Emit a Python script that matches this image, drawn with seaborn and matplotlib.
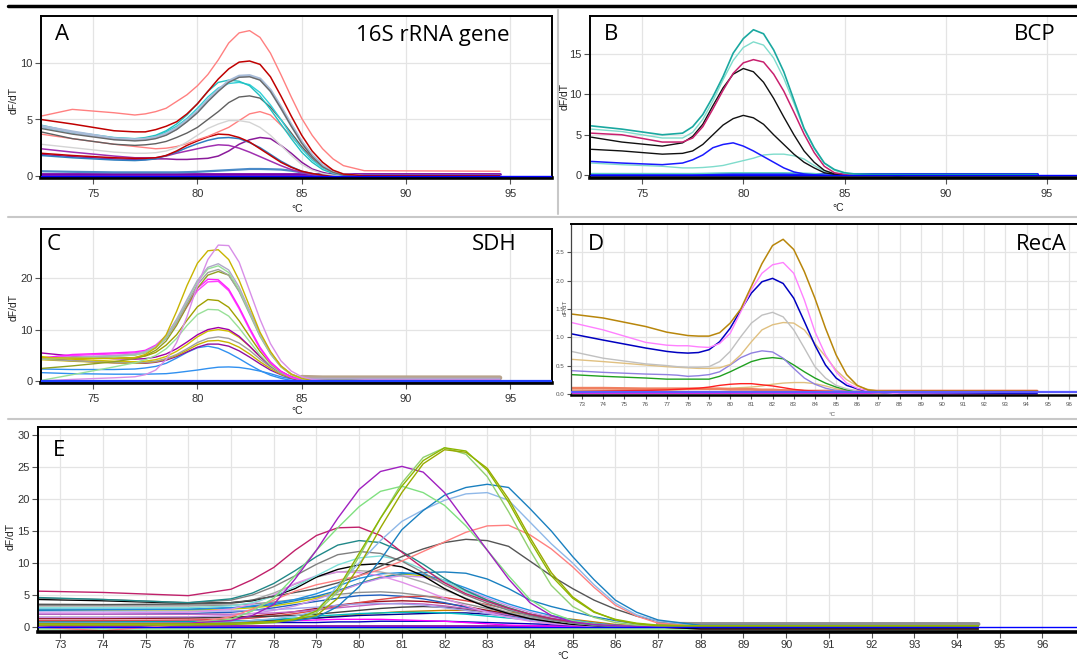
import numpy as np
import matplotlib
matplotlib.use("Agg")
import matplotlib.pyplot as plt
import seaborn as sns
from matplotlib.lines import Line2D

nan = np.nan
# common temperature grid (degC)
T = [72.5, 74, 76, 77, 77.5, 78, 78.5, 79, 79.5, 80, 80.5, 81, 81.5, 82, 82.5,
     83, 83.5, 84, 84.5, 85, 85.5, 86, 86.5, 87, 88, 94.5]

# ---------------- Panel A : 16S rRNA gene ----------------
A_salmon1 = [5.3, 5.9, 5.6, 5.4, 5.5, 5.7, 6.0, 6.6, 7.2, 8.0, 9.0, 10.3, 11.8, 12.7, 12.9, 12.3, 10.9, 9.0, 7.0, 5.1, 3.6, 2.4, 1.5, 0.9, 0.45, 0.4]
A_darkred1 = [5.0, 4.6, 4.0, 3.9, 3.9, 4.1, 4.4, 4.8, 5.5, 6.4, 7.5, 8.6, 9.5, 10.1, 10.2, 9.9, 8.8, 7.1, 5.3, 3.6, 2.2, 1.2, 0.5, 0.15, 0.0, 0.0]
A_steel = [4.4, 3.9, 3.3, 3.2, 3.25, 3.4, 3.7, 4.2, 4.9, 5.7, 6.7, 7.6, 8.4, 8.85, 8.9, 8.6, 7.6, 6.1, 4.5, 3.0, 1.8, 0.9, 0.35, 0.1, -0.05, -0.05]
A_gray1 = [4.2, 3.7, 3.2, 3.1, 3.15, 3.3, 3.6, 4.1, 4.8, 5.6, 6.6, 7.5, 8.3, 8.75, 8.8, 8.5, 7.5, 6.0, 4.4, 2.9, 1.7, 0.8, 0.3, 0.05, -0.1, -0.15]
A_cyan1 = [4.5, 3.9, 3.4, 3.3, 3.4, 3.6, 4.0, 4.6, 5.4, 6.4, 7.5, 8.3, 8.5, 8.4, 8.0, 7.1, 5.9, 4.6, 3.3, 2.1, 1.2, 0.55, 0.2, 0.05, 0.0, 0.0]
A_cyan2 = [4.3, 3.8, 3.3, 3.2, 3.3, 3.5, 3.9, 4.4, 5.1, 6.0, 7.0, 7.8, 8.2, 8.3, 8.1, 7.4, 6.3, 5.0, 3.6, 2.4, 1.4, 0.7, 0.25, 0.05, 0.0, 0.0]
A_gray2 = [3.9, 3.3, 2.8, 2.7, 2.75, 2.85, 3.05, 3.4, 3.8, 4.3, 5.0, 5.7, 6.5, 7.0, 7.1, 6.9, 6.1, 5.0, 3.8, 2.6, 1.6, 0.8, 0.3, 0.08, -0.05, -0.1]
A_lgray = [2.8, 2.5, 2.1, 2.0, 2.0, 2.05, 2.2, 2.5, 3.0, 3.6, 4.2, 4.6, 4.9, 4.9, 4.75, 4.3, 3.6, 2.7, 1.8, 1.0, 0.5, 0.2, 0.05, 0.0, 0.0, 0.0]
A_salmon2 = [3.7, 3.3, 2.8, 2.6, 2.5, 2.4, 2.45, 2.6, 2.85, 3.2, 3.5, 3.9, 4.3, 4.9, 5.5, 5.7, 5.4, 4.5, 3.5, 2.5, 1.5, 0.8, 0.3, 0.1, 0.0, 0.0]
A_darkred2 = [2.0, 1.8, 1.6, 1.55, 1.55, 1.6, 1.8, 2.2, 2.7, 3.1, 3.45, 3.7, 3.65, 3.4, 3.0, 2.4, 1.8, 1.2, 0.75, 0.4, 0.2, 0.05, 0.0, 0.0, 0.0, 0.0]
A_blue1 = [1.8, 1.6, 1.4, 1.35, 1.4, 1.5, 1.8, 2.1, 2.5, 2.85, 3.15, 3.35, 3.4, 3.3, 2.95, 2.5, 1.9, 1.3, 0.8, 0.4, 0.2, 0.05, 0.0, 0.0, 0.0, 0.0]
A_purple1 = [2.4, 2.1, 1.75, 1.6, 1.6, 1.6, 1.75, 2.0, 2.2, 2.4, 2.6, 2.75, 2.7, 2.45, 2.1, 1.7, 1.3, 0.9, 0.55, 0.3, 0.12, 0.03, 0.0, 0.0, 0.0, 0.0]
A_purple2 = [1.9, 1.7, 1.5, 1.45, 1.45, 1.5, 1.5, 1.45, 1.45, 1.5, 1.55, 1.75, 2.2, 2.8, 3.2, 3.4, 3.3, 2.7, 2.0, 1.2, 0.6, 0.3, 0.1, 0.0, 0.0, 0.0]
A_bluelow = [0.4, 0.35, 0.3, 0.3, 0.3, 0.3, 0.3, 0.3, 0.32, 0.35, 0.4, 0.45, 0.5, 0.55, 0.6, 0.6, 0.58, 0.55, 0.45, 0.3, 0.15, 0.05, 0.0, 0.0, 0.0, 0.0]
A_purpleflat = [0.12] * 26

# ---------------- Panel B : BCP ----------------
B_teal = [6.1, 5.7, 5.0, 5.2, 6.0, 7.5, 9.7, 12.2, 15.1, 16.9, 18.0, 17.5, 15.5, 12.8, 9.3, 5.8, 3.4, 1.5, 0.7, 0.3, 0.15, 0.12, 0.1, 0.1, 0.08, 0.08]
B_lteal = [5.7, 5.4, 4.6, 4.6, 5.3, 6.9, 9.2, 11.8, 14.2, 15.8, 16.5, 16.1, 14.5, 12.0, 8.9, 5.7, 3.3, 1.5, 0.6, 0.25, 0.1, 0.08, 0.05, 0.05, -0.3, -0.3]
B_crimson = [5.2, 5.0, 4.1, 4.1, 4.6, 6.0, 8.2, 10.5, 12.6, 13.9, 14.3, 14.0, 12.5, 10.4, 7.8, 5.1, 2.8, 1.1, 0.3, 0.1, 0.0, 0.0, 0.0, 0.0, 0.0, 0.0]
B_black1 = [4.7, 4.1, 3.6, 4.0, 4.8, 6.3, 8.6, 10.8, 12.5, 13.2, 12.8, 11.5, 9.5, 7.2, 5.0, 3.0, 1.6, 0.6, 0.15, 0.0, 0.0, 0.0, 0.0, 0.0, 0.0, 0.0]
B_black2 = [3.2, 3.0, 2.6, 2.7, 3.0, 3.8, 5.0, 6.2, 7.0, 7.4, 7.1, 6.3, 5.0, 3.8, 2.6, 1.6, 0.9, 0.3, 0.1, 0.0, 0.0, 0.0, 0.0, 0.0, 0.0, 0.0]
B_blue = [1.7, 1.5, 1.3, 1.5, 1.9, 2.5, 3.4, 3.8, 4.0, 3.6, 3.0, 2.3, 1.6, 0.9, 0.4, 0.15, 0.05, 0.0, 0.0, 0.0, 0.0, 0.0, 0.0, 0.0, 0.0, 0.0]
B_lteal2 = [1.5, 1.3, 1.1, 0.9, 0.9, 0.95, 1.05, 1.2, 1.5, 1.8, 2.1, 2.5, 2.6, 2.6, 2.4, 2.0, 1.2, 0.5, 0.2, 0.05, 0.0, 0.0, 0.0, 0.0, 0.0, 0.0]
B_teallow = [0.2, 0.2, 0.2, 0.2, 0.2, 0.22, 0.25, 0.28, 0.3, 0.3, 0.3, 0.3, 0.3, 0.3, 0.28, 0.25, 0.2, 0.1, 0.05, 0.0, 0.0, 0.0, 0.0, 0.0, 0.0, 0.0]
B_blueflat = [0.1] * 26

# ---------------- Panel C : SDH ----------------
C_orchid = [0.1, 0.4, 0.7, 0.9, 1.3, 2.2, 4.2, 7.5, 12.5, 18.5, 23.5, 26.3, 26.2, 23.0, 17.5, 12.0, 7.3, 4.0, 2.0, 0.9, 0.4, 0.2, 0.1, 0.05, 0.3, 0.3]
C_yellow1 = [4.6, 4.5, 4.4, 4.6, 5.2, 6.5, 9.0, 13.5, 18.5, 22.8, 25.2, 25.4, 23.5, 19.5, 14.5, 9.5, 5.8, 3.0, 1.4, 0.6, 0.2, 0.0, -0.2, -0.3, -0.3, -0.3]
C_graylav = [4.5, 4.7, 5.0, 5.3, 5.8, 6.8, 8.8, 12.0, 15.8, 19.5, 22.0, 22.7, 21.5, 18.2, 13.7, 9.2, 5.6, 3.0, 1.4, 0.7, 0.6, 0.6, 0.6, 0.6, 0.6, 0.6]
C_lgreen1 = [4.3, 4.5, 4.8, 5.1, 5.6, 6.6, 8.5, 11.7, 15.5, 19.2, 21.7, 22.3, 21.0, 17.7, 13.3, 8.9, 5.4, 2.9, 1.3, 0.5, 0.2, 0.1, 0.1, 0.1, 0.1, 0.1]
C_gray1 = [4.4, 4.6, 4.9, 5.1, 5.5, 6.5, 8.3, 11.4, 15.0, 18.7, 21.0, 21.6, 20.5, 17.3, 13.0, 8.7, 5.3, 2.8, 1.3, 0.6, 0.5, 0.5, 0.5, 0.5, 0.5, 0.5]
C_olivegreen = [2.5, 3.0, 3.8, 4.4, 5.0, 6.0, 7.8, 10.8, 14.5, 18.0, 20.5, 21.2, 20.5, 17.5, 13.5, 9.2, 5.6, 3.0, 1.4, 0.6, 0.2, 0.0, -0.2, -0.3, -0.3, -0.3]
C_magenta1 = [4.5, 5.2, 5.5, 5.7, 6.0, 7.0, 8.8, 11.8, 15.0, 18.0, 19.7, 19.6, 17.8, 14.3, 10.3, 6.6, 3.8, 2.0, 0.9, 0.3, 0.1, 0.0, 0.0, 0.0, 0.0, 0.0]
C_magenta2 = [4.3, 5.0, 5.3, 5.5, 5.8, 6.7, 8.4, 11.2, 14.4, 17.5, 19.2, 19.3, 17.5, 14.0, 10.0, 6.3, 3.6, 1.9, 0.8, 0.3, 0.1, 0.0, 0.0, 0.0, 0.0, 0.0]
C_olive = [4.3, 4.4, 4.5, 4.6, 4.9, 5.6, 7.0, 9.0, 11.8, 14.4, 15.8, 15.6, 14.3, 11.7, 8.7, 5.8, 3.5, 1.9, 0.9, 0.3, 0.1, 0.0, 0.0, 0.0, 0.0, 0.0]
C_lgreen2 = [0.2, 1.3, 2.8, 3.6, 4.2, 5.0, 6.3, 8.3, 10.8, 12.9, 13.9, 13.8, 12.6, 10.3, 7.7, 5.1, 3.1, 1.7, 0.8, 0.3, 0.1, 0.0, 0.0, 0.0, 0.0, 0.0]
C_purple1 = [5.5, 4.9, 4.4, 4.3, 4.4, 4.7, 5.3, 6.3, 7.6, 9.0, 10.0, 10.4, 10.0, 8.7, 6.8, 4.8, 3.0, 1.7, 0.8, 0.3, 0.1, 0.0, 0.0, 0.0, 0.0, 0.0]
C_yellow2 = [4.8, 4.3, 3.9, 3.8, 3.9, 4.2, 4.8, 5.8, 7.1, 8.6, 9.7, 10.0, 9.7, 8.5, 6.8, 4.8, 3.1, 1.8, 0.9, 0.35, 0.1, 0.0, 0.0, 0.0, 0.0, 0.0]
C_gray2 = [4.3, 4.0, 3.7, 3.6, 3.7, 3.9, 4.4, 5.2, 6.3, 7.5, 8.3, 8.6, 8.3, 7.4, 6.0, 4.3, 2.8, 1.6, 0.9, 0.5, 0.4, 0.4, 0.4, 0.4, 0.4, 0.4]
C_yellow3 = [4.2, 3.9, 3.6, 3.5, 3.6, 3.8, 4.3, 5.0, 6.0, 7.1, 7.8, 7.9, 7.5, 6.6, 5.3, 3.8, 2.5, 1.4, 0.7, 0.25, 0.05, 0.0, -0.2, -0.3, -0.3, -0.3]
C_purple2 = [4.4, 4.0, 3.6, 3.5, 3.5, 3.7, 4.1, 4.8, 5.7, 6.6, 7.2, 7.2, 6.8, 5.9, 4.7, 3.4, 2.2, 1.3, 0.6, 0.2, 0.05, 0.0, 0.0, 0.0, 0.0, 0.0]
C_blue1 = [2.4, 2.3, 2.3, 2.4, 2.6, 2.9, 3.5, 4.5, 5.6, 6.5, 6.8, 6.4, 5.5, 4.4, 3.2, 2.1, 1.2, 0.6, 0.2, 0.05, 0.0, 0.0, 0.0, 0.0, 0.0, 0.0]
C_blue2 = [1.7, 1.5, 1.4, 1.4, 1.4, 1.45, 1.5, 1.7, 1.95, 2.2, 2.5, 2.75, 2.8, 2.7, 2.4, 2.0, 1.5, 0.9, 0.5, 0.2, 0.05, 0.0, 0.0, 0.0, 0.0, 0.0]
C_band = [nan] * 19 + [0.8, 0.75, 0.7, 0.7, 0.7, 0.7, 0.7]

# ---------------- Panel D : RecA ----------------
D_brown = [1.41, 1.34, 1.19, 1.09, 1.06, 1.03, 1.02, 1.02, 1.08, 1.25, 1.5, 1.9, 2.3, 2.62, 2.73, 2.55, 2.16, 1.69, 1.16, 0.69, 0.34, 0.15, 0.07, 0.05, 0.05, 0.05]
D_pink = [1.26, 1.13, 0.91, 0.86, 0.85, 0.85, 0.83, 0.82, 0.89, 1.07, 1.45, 1.84, 2.13, 2.28, 2.32, 2.13, 1.66, 1.1, 0.69, 0.39, 0.19, 0.1, 0.05, 0.03, 0.0, -0.02]
D_blue = [1.06, 0.95, 0.81, 0.75, 0.73, 0.72, 0.73, 0.78, 0.92, 1.16, 1.48, 1.78, 1.98, 2.04, 1.95, 1.69, 1.28, 0.86, 0.51, 0.28, 0.15, 0.09, 0.05, 0.03, 0.0, 0.0]
D_lgray = [0.75, 0.63, 0.53, 0.5, 0.48, 0.47, 0.47, 0.48, 0.57, 0.75, 1.01, 1.25, 1.39, 1.44, 1.36, 1.13, 0.81, 0.48, 0.28, 0.15, 0.09, 0.05, 0.03, 0.03, 0.03, 0.03]
D_tan = [0.61, 0.57, 0.51, 0.48, 0.47, 0.46, 0.45, 0.45, 0.46, 0.52, 0.69, 0.92, 1.13, 1.22, 1.26, 1.25, 1.13, 0.89, 0.66, 0.42, 0.25, 0.14, 0.08, 0.05, 0.04, 0.04]
D_lavender = [0.41, 0.38, 0.35, 0.34, 0.33, 0.31, 0.32, 0.34, 0.39, 0.51, 0.64, 0.72, 0.76, 0.74, 0.63, 0.45, 0.28, 0.17, 0.1, 0.06, 0.04, 0.03, 0.03, 0.03, 0.03, 0.03]
D_green = [0.34, 0.31, 0.28, 0.26, 0.26, 0.26, 0.26, 0.26, 0.31, 0.39, 0.48, 0.57, 0.62, 0.64, 0.62, 0.51, 0.39, 0.28, 0.19, 0.12, 0.07, 0.04, 0.03, 0.03, 0.03, 0.03]
D_salmon = [0.1, 0.1, 0.09, 0.09, 0.09, 0.09, 0.09, 0.09, 0.09, 0.08, 0.08, 0.08, 0.07, 0.07, 0.06, 0.06, 0.05, 0.05, 0.05, 0.05, 0.05, 0.05, 0.05, 0.05, 0.05, 0.05]
D_red = [0.04, 0.05, 0.06, 0.07, 0.08, 0.09, 0.1, 0.12, 0.15, 0.17, 0.18, 0.18, 0.16, 0.14, 0.11, 0.08, 0.06, 0.05, 0.04, 0.04, 0.04, 0.04, 0.04, 0.05, 0.05, 0.05]
D_tan2 = [0.06, 0.06, 0.07, 0.07, 0.07, 0.08, 0.08, 0.09, 0.09, 0.1, 0.11, 0.12, 0.14, 0.17, 0.19, 0.2, 0.2, 0.18, 0.14, 0.09, 0.06, 0.04, 0.03, 0.02, 0.02, 0.02]
D_greenlow = [0.03, 0.03, 0.03, 0.03, 0.03, 0.03, 0.03, 0.03, 0.03, 0.03, 0.04, 0.04, 0.05, 0.05, 0.05, 0.05, 0.05, 0.05, 0.04, 0.03, 0.03, 0.03, 0.03, 0.03, 0.03, 0.03]
D_magenta = [0.02] * 26

# ---------------- Panel E : all targets ----------------
E_olive1 = [0.3, 0.3, 0.3, 0.4, 0.5, 0.7, 1.2, 2.5, 6.0, 11.5, 17.0, 22.0, 26.0, 28.0, 27.5, 24.5, 19.5, 13.5, 8.0, 4.5, 2.3, 1.2, 0.6, 0.3, 0.2, 0.2]
E_olive2 = [0.5, 0.5, 0.5, 0.6, 0.7, 0.9, 1.2, 1.8, 4.5, 9.5, 15.5, 21.0, 25.5, 27.7, 27.3, 24.8, 20.0, 14.0, 8.5, 4.7, 2.4, 1.1, 0.5, 0.2, 0.1, 0.1]
E_lgreen1 = [0.4, 0.4, 0.4, 0.5, 0.6, 0.8, 1.3, 2.2, 5.5, 11.0, 17.0, 22.5, 26.5, 28.0, 27.0, 23.5, 18.0, 12.0, 6.5, 3.2, 1.5, 0.7, 0.3, 0.2, 0.1, 0.1]
E_purple = [0.5, 0.5, 0.6, 1.0, 1.8, 3.5, 7.5, 12.0, 17.0, 21.5, 24.3, 25.1, 24.2, 21.0, 16.5, 12.0, 7.5, 3.8, 1.8, 0.8, 0.4, 0.2, 0.1, 0.0, 0.0, 0.0]
E_lgreen2 = [0.5, 0.5, 0.6, 1.2, 2.5, 4.5, 8.0, 12.0, 15.5, 18.8, 21.2, 22.0, 21.0, 19.0, 15.8, 12.0, 8.0, 4.3, 2.2, 1.0, 0.5, 0.2, 0.1, 0.0, 0.0, 0.0]
E_teal = [0.5, 0.5, 0.5, 0.6, 0.7, 0.8, 1.0, 1.5, 3.2, 6.3, 10.5, 15.2, 18.2, 20.6, 21.8, 22.3, 21.8, 18.5, 15.0, 11.0, 7.4, 4.2, 2.3, 1.1, 0.25, 0.2]
E_steel = [0.6, 0.6, 0.6, 0.8, 1.0, 1.3, 1.7, 2.5, 6.5, 10.0, 13.5, 16.5, 18.3, 19.8, 20.8, 21.0, 19.8, 16.4, 13.0, 10.0, 6.6, 3.7, 1.9, 0.9, 0.2, 0.2]
E_salmon = [0.0, -0.6, 0.5, 1.6, 2.8, 4.2, 5.6, 6.6, 7.3, 8.0, 9.0, 10.3, 11.8, 13.3, 14.8, 15.8, 15.9, 14.4, 12.2, 9.4, 6.2, 3.4, 1.7, 0.6, 0.1, 0.1]
E_dgray = [3.5, 3.5, 3.6, 3.8, 4.2, 4.8, 5.4, 6.0, 6.9, 8.0, 9.5, 11.0, 12.2, 13.2, 13.7, 13.5, 12.6, 10.3, 8.0, 6.0, 4.2, 2.8, 1.7, 0.9, 0.2, 0.2]
E_crimson = [5.6, 5.4, 4.9, 5.9, 7.4, 9.3, 12.0, 14.3, 15.5, 15.6, 14.3, 11.7, 9.2, 6.9, 5.2, 4.0, 2.9, 2.0, 1.3, 0.8, 0.45, 0.25, 0.1, 0.05, 0.0, 0.0]
E_tealdark = [4.6, 4.3, 3.8, 4.4, 5.3, 6.8, 8.8, 11.0, 12.8, 13.5, 13.2, 11.8, 9.8, 7.6, 5.7, 4.2, 3.0, 2.0, 1.3, 0.8, 0.4, 0.2, 0.1, 0.0, 0.0, 0.0]
E_gray = [4.5, 4.3, 3.8, 4.2, 5.0, 6.3, 8.0, 9.8, 11.3, 11.8, 11.5, 10.3, 8.5, 6.6, 5.0, 3.7, 2.6, 1.8, 1.1, 0.6, 0.3, 0.1, 0.0, 0.0, 0.0, 0.0]
E_lcyan = [3.0, 3.0, 3.0, 3.3, 3.8, 4.8, 6.3, 8.0, 9.7, 10.8, 11.1, 10.4, 9.0, 7.2, 5.5, 4.0, 2.8, 1.8, 1.1, 0.6, 0.3, 0.1, 0.0, 0.0, 0.0, 0.0]
E_black = [4.3, 4.1, 3.7, 3.8, 4.1, 4.8, 6.0, 7.8, 9.0, 9.7, 9.9, 9.4, 8.0, 6.0, 4.4, 3.1, 2.1, 1.3, 0.8, 0.4, 0.2, 0.1, 0.0, 0.0, -0.3, -0.3]
E_orchid = [2.2, 2.2, 2.3, 2.8, 3.6, 5.0, 6.8, 8.0, 8.6, 8.5, 8.0, 7.0, 5.8, 4.5, 3.3, 2.3, 1.5, 0.9, 0.5, 0.3, 0.1, 0.0, 0.0, 0.0, 0.0, 0.0]
E_gray3 = [3.6, 3.5, 3.4, 3.6, 4.2, 5.3, 6.7, 7.8, 8.6, 8.8, 8.6, 8.0, 7.0, 5.8, 4.5, 3.3, 2.3, 1.5, 0.9, 0.5, 0.3, 0.1, 0.0, 0.0, 0.0, 0.0]
E_blue = [2.8, 2.8, 2.8, 3.0, 3.3, 3.7, 4.3, 5.2, 6.4, 7.6, 8.3, 8.5, 8.2, 7.3, 6.1, 4.8, 3.6, 2.6, 1.8, 1.1, 0.6, 0.3, 0.1, 0.0, 0.0, 0.0]
E_lpurple = [1.5, 1.5, 1.6, 1.8, 2.1, 2.6, 3.3, 4.3, 5.5, 6.7, 7.6, 8.0, 7.8, 7.0, 5.8, 4.5, 3.3, 2.3, 1.5, 0.9, 0.5, 0.2, 0.1, 0.0, 0.0, 0.0]
E_blue2 = [2.6, 2.7, 2.8, 3.0, 3.2, 3.5, 4.1, 4.8, 5.7, 6.8, 7.7, 8.3, 8.5, 8.6, 8.4, 7.5, 6.0, 4.2, 3.2, 2.4, 1.6, 1.0, 0.5, 0.2, 0.1, 0.1]
E_gray4 = [3.3, 3.3, 3.3, 3.4, 3.6, 3.9, 4.3, 4.7, 5.1, 5.4, 5.5, 5.3, 4.9, 4.3, 3.6, 2.9, 2.2, 1.6, 1.1, 0.7, 0.4, 0.2, 0.1, 0.0, 0.0, 0.0]
E_red = [1.0, 1.0, 1.1, 1.2, 1.4, 1.7, 2.1, 2.6, 3.2, 3.8, 4.3, 4.7, 4.8, 4.6, 4.1, 3.5, 2.8, 2.0, 1.4, 0.8, 0.4, 0.2, 0.1, 0.0, -0.3, -0.3]
E_blue3 = [2.0, 2.0, 2.1, 2.3, 2.6, 3.0, 3.5, 4.0, 4.5, 4.9, 5.0, 4.8, 4.4, 3.8, 3.1, 2.4, 1.8, 1.2, 0.7, 0.4, 0.2, 0.1, 0.0, 0.0, 0.0, 0.0]
E_darkred = [1.3, 1.3, 1.4, 1.5, 1.7, 2.0, 2.4, 2.9, 3.4, 3.8, 4.0, 4.1, 4.0, 3.7, 3.2, 2.6, 2.0, 1.4, 0.9, 0.5, 0.3, 0.1, 0.0, 0.0, 0.0, 0.0]
E_cyan = [0.8, 0.8, 0.8, 0.9, 1.0, 1.2, 1.4, 1.7, 1.9, 2.1, 2.2, 2.3, 2.3, 2.2, 2.0, 1.7, 1.4, 1.1, 0.8, 0.5, 0.3, 0.1, 0.0, 0.0, 0.0, 0.0]
E_navy = [0.9, 0.9, 0.9, 0.9, 1.0, 1.1, 1.2, 1.4, 1.6, 1.8, 1.9, 2.0, 2.1, 2.2, 2.2, 2.0, 1.8, 1.5, 1.1, 0.7, 0.4, 0.2, 0.1, 0.0, 0.0, 0.0]
E_orange = [0.6, 0.6, 0.7, 0.8, 0.9, 1.0, 1.2, 1.4, 1.7, 2.0, 2.2, 2.4, 2.5, 2.6, 2.6, 2.5, 2.3, 2.0, 1.6, 1.2, 0.8, 0.4, 0.2, 0.1, 0.0, 0.0]
E_magenta = [0.5, 0.5, 0.5, 0.6, 0.7, 0.8, 1.0, 1.1, 1.2, 1.2, 1.2, 1.1, 1.0, 0.9, 0.7, 0.5, 0.3, 0.2, 0.1, 0.0, 0.0, 0.0, 0.0, 0.0, 0.0, 0.0]
E_lavflat = [2.5, 2.5, 2.5, 2.5, 2.6, 2.7, 2.9, 3.1, 3.4, 3.6, 3.7, 3.6, 3.4, 3.0, 2.6, 2.1, 1.6, 1.1, 0.7, 0.4, 0.2, 0.1, 0.0, 0.0, 0.0, 0.0]
E_purpflat = [2.0, 2.0, 2.0, 2.0, 2.1, 2.2, 2.4, 2.7, 3.0, 3.3, 3.6, 3.7, 3.6, 3.3, 2.9, 2.4, 1.9, 1.4, 0.9, 0.5, 0.3, 0.1, 0.0, 0.0, 0.0, 0.0]
E_dgrayflat = [1.5, 1.5, 1.5, 1.5, 1.6, 1.7, 1.8, 2.0, 2.3, 2.6, 2.9, 3.1, 3.2, 3.1, 2.8, 2.4, 1.9, 1.4, 0.9, 0.5, 0.3, 0.1, 0.0, 0.0, 0.0, 0.0]
E_yellow = [2.7, 2.7, 2.7, 2.8, 3.0, 3.3, 3.8, 4.5, 5.5, 6.8, 7.8, 8.3, 8.0, 7.0, 5.6, 4.2, 3.0, 2.0, 1.2, 0.7, 0.3, 0.1, 0.0, 0.0, 0.0, 0.0]
E_blueflat = [0.7, 0.7, 0.7, 0.7, 0.7, 0.7, 0.7, 0.7, 0.8, 0.8, 0.9, 0.9, 0.9, 0.9, 0.8, 0.7, 0.6, 0.5, 0.4, 0.3, 0.2, 0.2, 0.2, 0.2, 0.2, 0.2]
E_purpbottom = [0.2] * 26
E_greenbottom = [-0.3] * 25 + [-0.4]
E_band = [nan] * 23 + [0.5, 0.45, 0.45]

# ---------------- styles (colour, linewidth) ----------------
A_STYLE = [(A_purpleflat, "#7a00a8", 2.0), (A_bluelow, "#4a8ac8", 1.6), (A_purple2, "#8a1a9a", 1.1),
           (A_purple1, "#a030b0", 1.1), (A_blue1, "#2f7fc0", 1.1), (A_darkred2, "#c00000", 1.1),
           (A_salmon2, "#ff8080", 1.0), (A_lgray, "#d4d4d4", 1.0), (A_gray2, "#606060", 1.0),
           (A_cyan2, "#30d0d8", 1.0), (A_cyan1, "#20c0c0", 1.0), (A_steel, "#a8bcd8", 2.2),
           (A_gray1, "#6a6a6a", 1.0), (A_darkred1, "#c00000", 1.1), (A_salmon1, "#ff8080", 1.0)]
B_STYLE = [(B_blueflat, "#1a1aff", 2.2), (B_teallow, "#60d0c0", 1.0), (B_lteal2, "#7fdccc", 1.0),
           (B_blue, "#1a1aff", 1.1), (B_black2, "#111111", 1.0), (B_black1, "#111111", 1.0),
           (B_crimson, "#c8206e", 1.1), (B_lteal, "#7fdccc", 1.0), (B_teal, "#1aa8a0", 1.2)]
C_STYLE = [(C_band, "#b8a48c", 3.5), (C_blue2, "#3090f0", 1.0), (C_blue1, "#3090f0", 1.0),
           (C_purple2, "#9010a0", 1.0), (C_yellow3, "#c8b400", 1.0), (C_gray2, "#a0a0a0", 1.0),
           (C_yellow2, "#d0c000", 1.0), (C_purple1, "#a000a8", 1.0), (C_lgreen2, "#98e098", 1.0),
           (C_olive, "#a0a000", 1.0), (C_magenta2, "#ff40ff", 1.0), (C_magenta1, "#ff20ff", 1.0),
           (C_olivegreen, "#90a020", 1.0), (C_gray1, "#a0a0a0", 1.0), (C_lgreen1, "#98e098", 1.0),
           (C_graylav, "#b0a8c8", 1.0), (C_yellow1, "#c8b400", 1.0), (C_orchid, "#d88ee8", 1.0)]
D_STYLE = [(D_magenta, "#e000e0", 1.2), (D_greenlow, "#20a020", 1.0), (D_tan2, "#e0c080", 1.0),
           (D_salmon, "#f08060", 2.0), (D_red, "#ff2020", 1.0), (D_green, "#20a020", 1.0),
           (D_lavender, "#9080e0", 1.0), (D_tan, "#e0c080", 1.0), (D_lgray, "#c0c0c0", 1.0),
           (D_blue, "#0000c0", 1.1), (D_pink, "#ff80ff", 1.0), (D_brown, "#b8860b", 1.1)]
E_STYLE = [(E_band, "#909090", 3.0), (E_greenbottom, "#90e090", 1.2), (E_purpbottom, "#8000a0", 1.2),
           (E_blueflat, "#0000c0", 1.0), (E_magenta, "#ff00ff", 1.0), (E_orange, "#c88000", 1.0),
           (E_navy, "#000090", 1.0), (E_cyan, "#00c0c0", 1.0), (E_darkred, "#a01020", 1.0),
           (E_blue3, "#2060c0", 1.0), (E_red, "#e04848", 1.0), (E_gray4, "#909090", 1.0),
           (E_dgrayflat, "#404040", 1.0), (E_purpflat, "#c060c0", 1.0), (E_lavflat, "#a0a0e8", 1.0),
           (E_yellow, "#c8c800", 1.0), (E_blue2, "#1a80c0", 1.0), (E_lpurple, "#c890e8", 1.0),
           (E_blue, "#2090e0", 1.0), (E_gray3, "#a8a8a8", 1.0), (E_orchid, "#e090e8", 1.0),
           (E_black, "#000000", 1.0), (E_lcyan, "#7ee0d8", 1.0), (E_gray, "#808080", 1.0),
           (E_tealdark, "#208888", 1.0), (E_crimson, "#c0206a", 1.0), (E_dgray, "#555555", 1.0),
           (E_salmon, "#ff8080", 1.0), (E_steel, "#8fb8e8", 1.0), (E_teal, "#1a80c0", 1.0),
           (E_lgreen2, "#80e080", 1.0), (E_purple, "#a020c0", 1.0), (E_lgreen1, "#90d070", 1.0),
           (E_olive2, "#9aaa00", 1.0), (E_olive1, "#8db600", 1.0)]

# ---------------- figure ----------------
sns.set_style("white")
plt.rcParams["font.family"] = ["Liberation Sans", "DejaVu Sans"]
W, H = 1077, 659
fig = plt.figure(figsize=(W / 100, H / 100), dpi=100)


def add_ax(l, t, r, b):
    return fig.add_axes([l / W, 1 - b / H, (r - l) / W, (b - t) / H])


def ftext(x, y, s, **kw):
    fig.text(x / W, 1 - y / H, s, **kw)


def style_ax(ax, xlim, ylim, xticks, yticks, grid_x, grid_y, tick_fs=8, right=True,
             yfmt=None, tick_color="#333333", xpad=2):
    ax.set_xlim(*xlim)
    ax.set_ylim(*ylim)
    ax.set_xticks(xticks)
    ax.set_yticks(yticks)
    if yfmt:
        ax.set_yticklabels([yfmt.format(v) for v in yticks])
    for gx in grid_x:
        ax.axvline(gx, color="#e4e4e4", lw=0.9, zorder=0)
    for gy in grid_y:
        ax.axhline(gy, color="#e4e4e4", lw=0.9, zorder=0)
    ax.tick_params(axis="both", which="major", length=4, width=0.8, color="#555555",
                   labelsize=tick_fs, labelcolor=tick_color, pad=2, direction="out",
                   bottom=True, left=True)
    ax.tick_params(axis="x", pad=xpad)
    ax.set_xlabel("")
    ax.set_ylabel("")
    for side in ["left", "top"]:
        ax.spines[side].set_color("black")
        ax.spines[side].set_linewidth(1.4)
    ax.spines["bottom"].set_color("black")
    ax.spines["bottom"].set_linewidth(2.6)
    ax.spines["right"].set_visible(right)
    ax.spines["right"].set_color("black")
    ax.spines["right"].set_linewidth(1.4)


def draw(ax, styles):
    for vals, col, lw in styles:
        sns.lineplot(x=T, y=vals, ax=ax, color=col, lw=lw, legend=False, estimator=None,
                     sort=False)


# Panel A
axA = add_ax(41, 16, 552, 178)
draw(axA, A_STYLE)
axA.axhline(0, color="#0000ff", lw=1.0, zorder=3)
style_ax(axA, (72.5, 97.0), (-0.2, 14.2), [75, 80, 85, 90, 95], [0, 5, 10],
         [75, 80, 85, 90, 95], [5, 10], xpad=4)
# Panel B
axB = add_ax(590, 16, 1077, 178)
draw(axB, B_STYLE)
axB.axhline(0, color="#0000ff", lw=1.0, zorder=3)
style_ax(axB, (72.43, 96.48), (-0.35, 19.7), [75, 80, 85, 90, 95], [0, 5, 10, 15],
         [75, 80, 85, 90, 95], [5, 10, 15], right=False, xpad=4)
# Panel C
axC = add_ax(41, 229, 552, 383)
draw(axC, C_STYLE)
axC.axhline(0, color="#2040ff", lw=1.6, zorder=3)
style_ax(axC, (72.5, 97.0), (-0.3, 29.4), [75, 80, 85, 90, 95], [0, 10, 20],
         [75, 80, 85, 90, 95], [10, 20], xpad=4)
# Panel D
axD = add_ax(571, 224, 1077, 395)
draw(axD, D_STYLE)
axD.axhline(0.03, color="#5a5aff", lw=1.6, zorder=3)
style_ax(axD, (72.48, 96.38), (-0.02, 3.0), list(range(73, 97)), [0, 0.5, 1.0, 1.5, 2.0, 2.5],
         list(range(73, 97)), [0.5, 1.0, 1.5, 2.0, 2.5], tick_fs=4.5, right=False, yfmt="{:.1f}",
         tick_color="#555555")
axD.tick_params(length=3)
axD.spines["left"].set_linewidth(0.9)
axD.spines["left"].set_color("#444444")
axD.spines["bottom"].set_linewidth(1.8)
# Panel E
axE = add_ax(38, 427, 1077, 632)
draw(axE, E_STYLE)
axE.axhline(0, color="#0000ff", lw=1.0, zorder=3)
style_ax(axE, (72.48, 96.81), (-0.78, 31.25), list(range(73, 97)), [0, 5, 10, 15, 20, 25, 30],
         list(range(73, 97)), [5, 10, 15, 20, 25, 30], right=False)

# panel titles and labels
tfont = dict(family=["Open Sans", "DejaVu Sans"], fontsize=16, color="black", va="center")
ftext(55, 35, "A", ha="left", **tfont)
ftext(510, 35, "16S rRNA gene", ha="right", **tfont)
ftext(604, 35, "B", ha="left", **tfont)
ftext(1055, 35, "BCP", ha="right", **tfont)
ftext(47, 244, "C", ha="left", **tfont)
ftext(517, 244, "SDH", ha="right", **tfont)
ftext(588, 245, "D", ha="left", **tfont)
ftext(1067, 245, "RecA", ha="right", **tfont)
ftext(53, 451, "E", ha="left", **tfont)

lab = dict(fontsize=7.5, color="#222222", ha="center", va="center")
ftext(14, 100, "dF/dT", rotation=90, **lab)
ftext(297, 209, "°C", **lab)
ftext(565, 96, "dF/dT", rotation=90, **lab)
ftext(838, 208, "°C", **lab)
ftext(14, 308, "dF/dT", rotation=90, **lab)
ftext(297, 411, "°C", **lab)
ftext(11, 537, "dF/dT", rotation=90, **lab)
ftext(563, 656, "°C", **lab)
ftext(565, 308, "dF/dT", rotation=90, fontsize=4.5, color="#555555", ha="center", va="center")
ftext(832, 414, "°C", fontsize=4.5, color="#555555", ha="center", va="center")


# frame / separator lines of the composite figure
def fline(x0, y0, x1, y1, color, lw):
    fig.add_artist(Line2D([x0 / W, x1 / W], [1 - y0 / H, 1 - y1 / H], color=color, lw=lw))


fline(8, 6, 1077, 6, "black", 2.5)
fline(558, 10, 558, 214, "#c8c8c8", 1.5)
fline(8, 217, 1077, 217, "#c8c8c8", 1.5)
fline(8, 419, 1077, 419, "#c8c8c8", 1.5)

fig.savefig("out.png", dpi=100, facecolor="white")
